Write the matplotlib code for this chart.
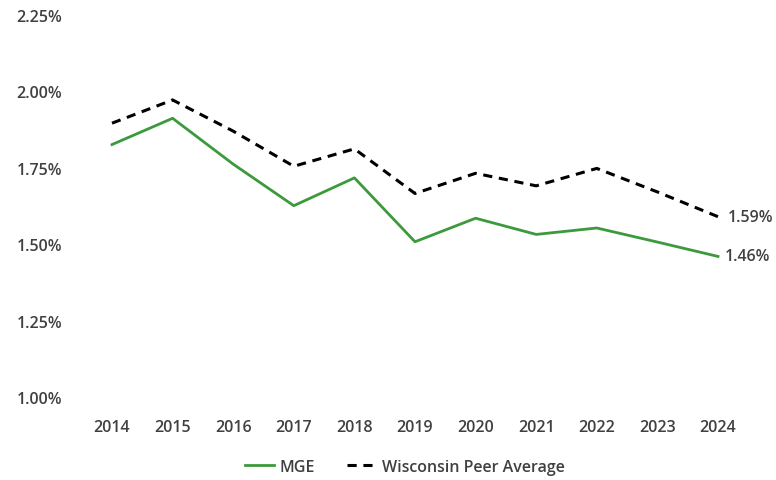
import matplotlib
matplotlib.use("Agg")
import matplotlib.pyplot as plt
from matplotlib.ticker import PercentFormatter

years = ["2014", "2015", "2016", "2017", "2018", "2019", "2020", "2021", "2022", "2023", "2024"]
mge = [1.826, 1.912, 1.762, 1.626, 1.717, 1.508, 1.585, 1.532, 1.553, 1.507, 1.46]
peer_avg = [1.896, 1.972, 1.870, 1.755, 1.812, 1.666, 1.732, 1.691, 1.748, 1.671, 1.59]
y_ticks = [1.00, 1.25, 1.50, 1.75, 2.00, 2.25]

plt.rcParams["font.family"] = ["Open Sans", "DejaVu Sans"]
text_color = "#404040"
font_size = 11.5

fig = plt.figure(figsize=(7.76, 4.81), dpi=100)
ax = fig.add_axes([81.7 / 776, 1 - 398 / 481, (748.3 - 81.7) / 776, (398 - 16) / 481])

x = list(range(len(years)))
ax.plot(x, mge, color="#3c9a3c", lw=2.0, label="MGE")
ax.plot(x, peer_avg, color="black", lw=2.2, ls=(0, (3, 2.2)), label="Wisconsin Peer Average")

# end-of-series value labels
ax.annotate(f"{mge[-1]:.2f}%", (x[-1], mge[-1]), xytext=(5, 0), textcoords="offset points",
            va="center", ha="left", fontsize=font_size, color=text_color, weight="semibold")
ax.annotate(f"{peer_avg[-1]:.2f}%", (x[-1], peer_avg[-1]), xytext=(7, 0), textcoords="offset points",
            va="center", ha="left", fontsize=font_size, color=text_color, weight="semibold")

ax.set_xlim(-0.5, len(years) - 0.5)
ax.set_ylim(1.0, 2.25)
ax.set_xticks(x)
ax.set_xticklabels(years)
ax.set_yticks(y_ticks)
ax.yaxis.set_major_formatter(PercentFormatter(decimals=2))
ax.tick_params(length=0, labelsize=font_size, labelcolor=text_color)
ax.tick_params(axis="x", pad=16)
ax.tick_params(axis="y", pad=14)
for lbl in ax.get_xticklabels() + ax.get_yticklabels():
    lbl.set_fontweight("semibold")
for s in ax.spines.values():
    s.set_visible(False)

leg = fig.legend(loc="center", bbox_to_anchor=(405 / 776, 1 - 468 / 481), ncol=2, frameon=False,
                 fontsize=font_size, handlelength=1.8, columnspacing=2.0, handletextpad=0.4)
for t in leg.get_texts():
    t.set_color(text_color)
    t.set_fontweight("semibold")

fig.savefig("out.png", dpi=100)
